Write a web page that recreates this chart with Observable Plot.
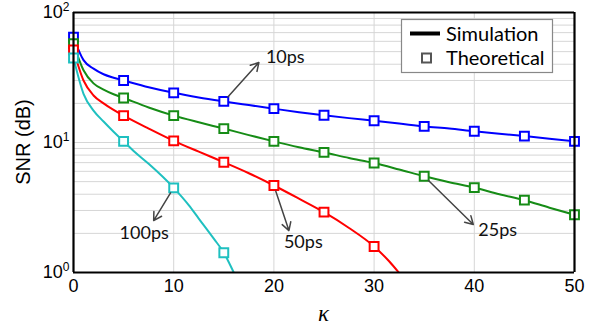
<!DOCTYPE html>
<html><head><meta charset="utf-8">
<script src="https://cdn.jsdelivr.net/npm/d3@7"></script>
<script src="https://cdn.jsdelivr.net/npm/@observablehq/plot@0.6"></script>
<style>body{margin:0;background:#fff} #chart{width:594px;height:330px}</style>
</head><body><div id="chart"></div>
<script>
// ---- data ----
const seriesNames = ["10ps", "25ps", "50ps", "100ps"];
const seriesColors = ["#0000ff", "#168c16", "#ff0000", "#1fc0c0"];

// simulation (lines)
const simKappa10 = [0,1,2,3,4,5,7.5,10,12.5,15,17.5,20,22.5,25,27.5,30,32.5,35,37.5,40,42.5,45,47.5,50];
const simSNR10   = [64.5,43,37,33.5,31.5,30,26.6,24.1,22.2,20.7,19.4,18.2,17.1,16.2,15.4,14.7,14.0,13.3,12.8,12.2,11.7,11.2,10.7,10.2];
const simKappa25 = [0,1,2,3,4,5,7.5,10,12.5,15,17.5,20,22.5,25,27.5,30,32.5,35,37.5,40,42.5,45,47.5,50];
const simSNR25   = [57.5,36,28.5,25.5,23.5,22,18.6,16.1,14.3,12.8,11.4,10.2,9.2,8.4,7.6,6.95,6.2,5.5,4.95,4.5,4.0,3.6,3.15,2.78];
const simKappa50 = [0,1,2,3,4,5,7.5,10,12.5,15,17.5,20,22.5,25,27.5,30,31.5,32.6];
const simSNR50   = [51.5,30,23,20,17.8,16.1,12.8,10.3,8.5,7.05,5.8,4.67,3.7,2.91,2.2,1.585,1.22,0.97];
const simKappa100 = [0,1,2,3,4,5,6,7.5,10,11.5,12.5,14,15,15.5,16.1];
const simSNR100   = [44.7,23.7,17.6,14.5,12.1,10.2,8.6,6.86,4.48,3.3,2.6,1.82,1.42,1.2,0.96];

// theoretical (square markers)
const theoKappa10 = [0,5,10,15,20,25,30,35,40,45,50];
const theoSNR10   = [64.5,30,24.1,20.7,18.2,16.2,14.7,13.3,12.2,11.2,10.2];
const theoKappa25 = [0,5,10,15,20,25,30,35,40,45,50];
const theoSNR25   = [57.5,22,16.1,12.8,10.2,8.4,6.95,5.5,4.5,3.6,2.78];
const theoKappa50 = [0,5,10,15,20,25,30];
const theoSNR50   = [51.5,16.1,10.3,7.05,4.67,2.91,1.585];
const theoKappa100 = [0,5,10,15];
const theoSNR100   = [44.7,10.2,4.48,1.42];

// annotations
const annoLabels = ["10ps", "25ps", "50ps", "100ps"];
const annoFromKappa = [15, 35, 20, 10];
const annoFromSNR = [20.7, 5.5, 4.67, 4.48];
const annoToKappa = [18.5, 39.9, 21.5, 8.0];
const annoToSNR = [41.2, 2.34, 2.10, 2.51];
const annoTextKappa = [19.2, 40.4, 21.0, 4.6];
const annoTextSNR = [45, 2.10, 1.71, 2.0];

const xTicks = [0, 10, 20, 30, 40, 50];
const yTicks = [1, 10, 100];
const yMinor = [1,2,3,4,5,6,7,8,9,10,20,30,40,50,60,70,80,90,100];
const xGrid = [10, 20, 30, 40];
const xEdges = [0, 50];
const yEdges = [1, 100];
const xLabel = "κ";
const yLabel = "SNR (dB)";
const legendLabels = ["Simulation", "Theoretical"];

// ---- tables ----
const simSets = [[simKappa10, simSNR10], [simKappa25, simSNR25], [simKappa50, simSNR50], [simKappa100, simSNR100]];
const theoSets = [[theoKappa10, theoSNR10], [theoKappa25, theoSNR25], [theoKappa50, theoSNR50], [theoKappa100, theoSNR100]];
const sim = simSets.flatMap(([k, v], i) => k.map((kk, j) => ({series: seriesNames[i], k: kk, v: v[j]})));
const theo = theoSets.flatMap(([k, v], i) => k.map((kk, j) => ({series: seriesNames[i], k: kk, v: v[j]})));
const anno = annoLabels.map((l, i) => ({label: l, k1: annoFromKappa[i], v1: annoFromSNR[i], k2: annoToKappa[i], v2: annoToSNR[i], tk: annoTextKappa[i], tv: annoTextSNR[i]}));

const chart = Plot.plot({
  width: 594, height: 330,
  marginLeft: 73, marginRight: 20, marginTop: 12, marginBottom: 58,
  style: {fontFamily: "'Liberation Sans', Arial, sans-serif", fontSize: "18px", color: "#000", background: "#fff"},
  x: {domain: [0, 50]},
  y: {type: "log", domain: [1, 100]},
  color: {domain: seriesNames, range: seriesColors},
  marks: [
    Plot.gridY(yMinor, {stroke: "#d6d6d6", strokeOpacity: 1, strokeWidth: 1}),
    Plot.gridX(xGrid, {stroke: "#d6d6d6", strokeOpacity: 1, strokeWidth: 1}),
    Plot.line(sim, {x: "k", y: "v", z: "series", stroke: "series", strokeWidth: 2, clip: true, curve: "monotone-x"}),
    Plot.dot(theo, {x: "k", y: "v", stroke: "series", fill: "white", symbol: "square", r: 5, strokeWidth: 2}),
    Plot.arrow(anno, {x1: "k1", y1: "v1", x2: "k2", y2: "v2", stroke: "#444", strokeWidth: 1.5, headLength: 9, insetStart: 6}),
    Plot.text(anno, {x: "tk", y: "tv", text: "label", textAnchor: "start", fontFamily: "Lato, 'Open Sans', sans-serif", fontSize: 18, fill: "#111"}),
    Plot.ruleX(xEdges, {stroke: "#000", strokeWidth: 2.2}),
    Plot.ruleY(yEdges, {stroke: "#000", strokeWidth: 2.2}),
    Plot.axisX({ticks: xTicks, tickSize: 0, tickPadding: 7, label: null}),
    Plot.axisY({ticks: yTicks, tickSize: 0, tickPadding: 4, tickFormat: d => String(Math.round(Math.log10(d))), label: null})
  ]
});
document.getElementById("chart").appendChild(chart);

const svg = d3.select(chart);
// superscript tick labels
svg.selectAll('g[aria-label="y-axis tick label"] text').each(function() {
  const t = d3.select(this);
  const e = t.text();
  t.text("10");
  t.append("tspan").attr("dy", "-0.6em").attr("font-size", "12px").text(e);
});
const xs = chart.scale("x"), ys = chart.scale("y");
const xMid = (xs.range[0] + xs.range[1]) / 2;
const yMid = (ys.range[0] + ys.range[1]) / 2;
svg.append("text").attr("x", xMid).attr("y", 313).attr("dy", "0.35em").attr("text-anchor", "middle")
  .attr("font-style", "italic").attr("font-family", "'Liberation Serif', 'DejaVu Serif', serif").attr("font-size", "23px").text(xLabel);
svg.append("text").attr("transform", `translate(23,${yMid}) rotate(-90)`).attr("dy", "0.35em").attr("text-anchor", "middle")
  .attr("font-size", "20px").text(yLabel);

// legend box (inside frame, top right)
const lg = svg.append("g").attr("font-family", "Lato, 'Open Sans', sans-serif").attr("font-size", "20px").attr("text-anchor", "start");
lg.append("rect").attr("x", 401.5).attr("y", 19.5).attr("width", 151).attr("height", 53).attr("fill", "#fff").attr("stroke", "#888").attr("stroke-width", 1.2);
lg.append("line").attr("x1", 410).attr("x2", 440).attr("y1", 33.5).attr("y2", 33.5).attr("stroke", "#000").attr("stroke-width", 4);
lg.append("text").attr("x", 446).attr("y", 33.5).attr("dy", "0.35em").text(legendLabels[0]);
lg.append("rect").attr("x", 422).attr("y", 53.5).attr("width", 9).attr("height", 9).attr("fill", "#fff").attr("stroke", "#555").attr("stroke-width", 2);
lg.append("text").attr("x", 446).attr("y", 58).attr("dy", "0.35em").text(legendLabels[1]);
</script>
</body></html>
